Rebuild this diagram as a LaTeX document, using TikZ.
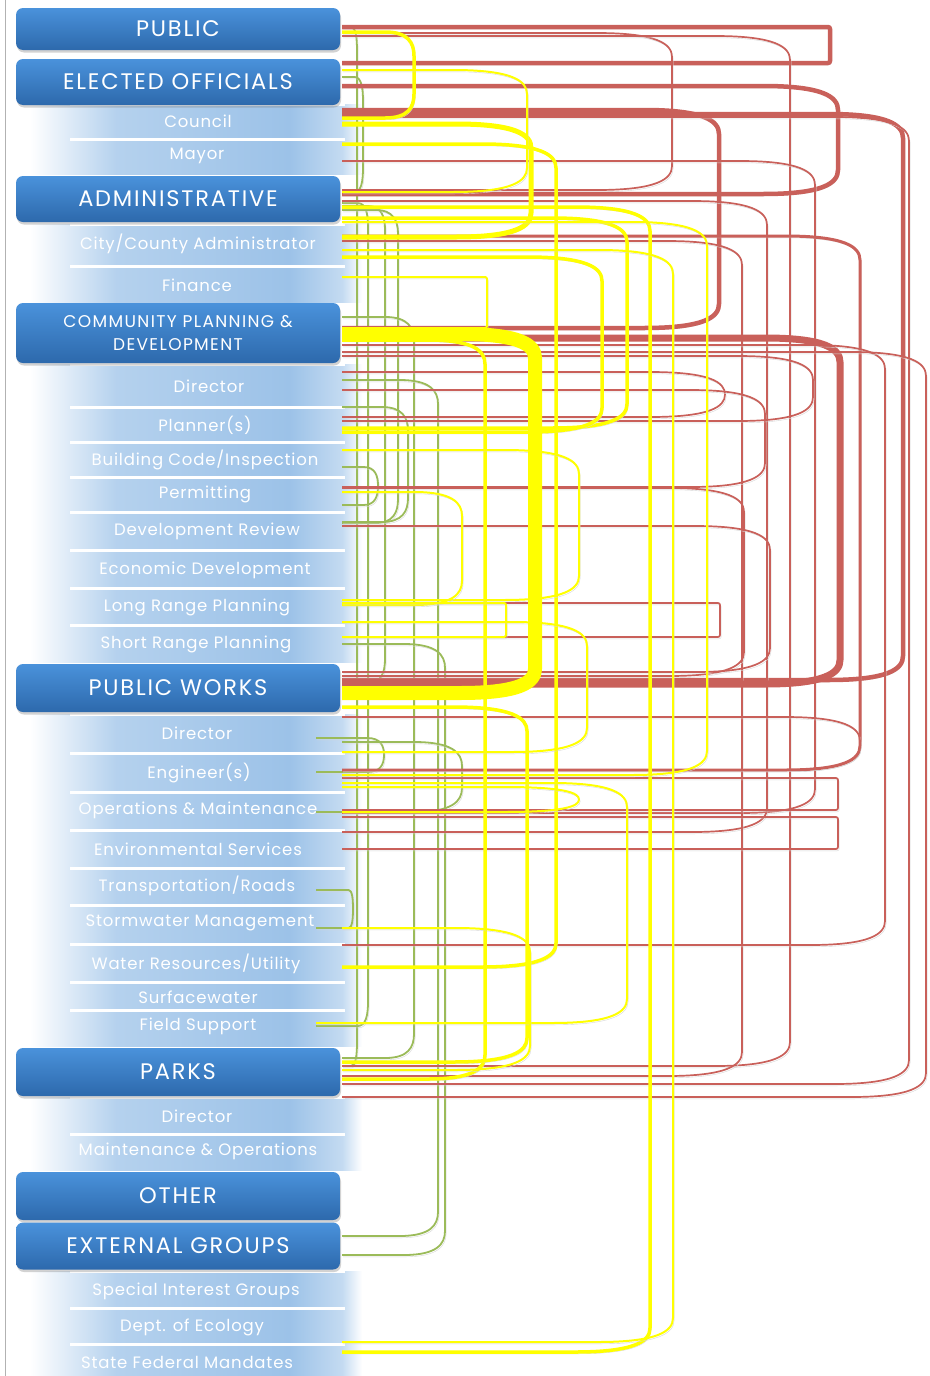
\documentclass[tikz,border=0pt]{standalone}
\usepackage{fontspec}
\newfontfamily\hfont[LetterSpace=8]{Poppins}
\newfontfamily\sfont[LetterSpace=5]{Poppins}
\usetikzlibrary{calc,shadows}
\definecolor{hdtop}{HTML}{4A92DB}
\definecolor{hdbot}{HTML}{2D69AC}
\definecolor{subc}{HTML}{9CC2E8}
\definecolor{cred}{HTML}{C9605A}
\definecolor{cyel}{HTML}{FFFF00}
\definecolor{cgrn}{HTML}{9BBB59}
\pgfdeclarehorizontalshading{subsh}{100bp}{color(0bp)=(white); color(25bp)=(white); color(38bp)=(subc!75); color(64bp)=(subc); color(72bp)=(subc!60); color(75bp)=(white); color(100bp)=(white)}
% curved bracket connector: style, from, y1, to, y2, x of the vertical run
\newcommand\cn[6][]{%
  \pgfmathsetmacro\rh{min(75,(#6-342)*0.4)}%
  \pgfmathsetmacro\rv{min(24,(#5-#3)/2)}%
  \draw[#1] (#2 |- 0,#3) -- ({#6-\rh},#3) .. controls ({#6-0.2*\rh},#3) and (#6,{#3+0.45*\rv}) .. (#6,{#3+\rv})
    -- (#6,{#5-\rv}) .. controls (#6,{#5-0.45*\rv}) and ({#6-0.2*\rh},#5) .. ({#6-\rh},#5) -- (#4 |- 0,#5);}
% square bracket connector
\newcommand\cs[6][]{\draw[#1, rounded corners=2pt] (#2 |- 0,#3) -- (#6,#3) -- (#6,#5) -- (#4 |- 0,#5);}
\tikzset{
  hdr/.style={rounded corners=7pt, top color=hdtop, bottom color=hdbot, draw=none,
    minimum width=324pt, text=white, align=center, inner sep=0pt,
    font=\hfont\fontsize{22.5}{24}\selectfont,
    drop shadow={shadow xshift=1pt, shadow yshift=-2.5pt, opacity=0.35}},
  subt/.style={text=white, inner sep=0pt, font=\sfont\fontsize{16.5}{18}\selectfont},
  conn/.style={line join=round,
    preaction={draw=black!16, transform canvas={shift={(1.2pt,-1.8pt)}}}},
  rn/.style={conn, draw=cred, line width=1.7pt},
  rm/.style={conn, draw=cred, line width=3pt},
  rt/.style={conn, draw=cred, line width=4.5pt},
  rth/.style={conn, draw=cred, line width=7pt},
  yn/.style={conn, draw=cyel, line width=2pt},
  ym/.style={conn, draw=cyel, line width=3.5pt},
  yt/.style={conn, draw=cyel, line width=5pt},
  yhuge/.style={conn, draw=cyel, line width=14pt},
  gn/.style={conn, draw=cgrn, line width=1.8pt},
}
\begin{document}
\begin{tikzpicture}[x=1pt,y=-1pt]
\useasboundingbox (0,0) rectangle (929,1376);
\fill[white] (0,0) rectangle (929,1376);
\draw[black!30, line width=1pt] (5,0) -- (5,1376);
% sub bars
\foreach \t/\b in {104/139,139/174,224/266,266/302,364/407,407/442,442/477,477/512,512/550,550/588,588/625,625/662,714/753,753/792,792/830,830/868,868/905,905/944,944/982,982/1010,1010/1046,1097/1134,1134/1170,1271/1308,1308/1344,1344/1376}{
  \path[shading=subsh] (30,\t) rectangle (362,\b);
  \draw[white, line width=3pt] (70,\t) -- (345,\t);
}
% sub texts
\node[subt] (t-council) at (198,121) {Council};
\node[subt] (t-mayor) at (197,156) {Mayor};
\node[subt] (t-cityadm) at (198,244) {City/County Administrator};
\node[subt] (t-finance) at (197,285) {Finance};
\node[subt] (t-cpdir) at (209,386) {Director};
\node[subt] (t-planner) at (205,425) {Planner(s)};
\node[subt] (t-bldg) at (205,460) {Building Code/Inspection};
\node[subt] (t-permit) at (205,494) {Permitting};
\node[subt] (t-devrev) at (207,531) {Development Review};
\node[subt] (t-econ) at (205,570) {Economic Development};
\node[subt] (t-lrp) at (197,607) {Long Range Planning};
\node[subt] (t-srp) at (196,644) {Short Range Planning};
\node[subt] (t-pwdir) at (197,733) {Director};
\node[subt] (t-eng) at (199,773) {Engineer(s)};
\node[subt] (t-om) at (198,810) {Operations \& Maintenance};
\node[subt] (t-env) at (198,849) {Environmental Services};
\node[subt] (t-trans) at (197,886) {Transportation/Roads};
\node[subt] (t-storm) at (200,923) {Stormwater Management};
\node[subt] (t-water) at (196,964) {Water Resources/Utility};
\node[subt] (t-surf) at (198,997) {Surfacewater};
\node[subt] (t-field) at (198,1026) {Field Support};
\node[subt] (t-pkdir) at (197,1116) {Director};
\node[subt] (t-pkmo) at (198,1151) {Maintenance \& Operations};
\node[subt] (t-sig) at (196,1291) {Special Interest Groups};
\node[subt] (t-eco) at (192,1327) {Dept. of Ecology};
\node[subt] (t-sfm) at (187,1362) {State Federal Mandates};
% headers
\node[hdr, minimum height=42pt] (h-pub) at (178,29) {PUBLIC};
\node[hdr, minimum height=46pt] (h-elect) at (178,82) {ELECTED OFFICIALS};
\node[hdr, minimum height=46pt] (h-admin) at (178,199) {ADMINISTRATIVE};
\node[hdr, minimum height=60pt, font=\hfont\fontsize{17}{23}\selectfont] (h-cpd) at (178,333) {COMMUNITY PLANNING \&\\DEVELOPMENT};
\node[hdr, minimum height=48pt] (h-pw) at (178,688) {PUBLIC WORKS};
\node[hdr, minimum height=48pt] (h-parks) at (178,1072) {PARKS};
\node[hdr, minimum height=48pt] (h-other) at (178,1196) {OTHER};
\node[hdr, minimum height=47pt] (h-ext) at (178,1246) {EXTERNAL GROUPS};
% attach points
\foreach \n/\y in {pub/29,elect/82,council/121,mayor/156,admin/199,cityadm/245,finance/285,cpd/333,cpdir/386,planner/425,bldg/460,permit/494,devrev/531,econ/570,lrp/607,srp/644,pw/688,pwdir/733,eng/773,om/810,env/849,trans/886,storm/923,water/964,surf/997,field/1026,parks/1072,ext/1246,sfm/1362}{
  \coordinate (\n) at (342,\y);
}
\foreach \n/\y in {pwdir/733,eng/773,om/810,trans/886,storm/923,field/1026}{
  \coordinate (\n L) at (316,\y);
}
% green connectors
\cn[gn]{pub}{27}{parks}{1066}{357}
\cn[gn]{elect}{77}{admin}{192}{363}
\cn[gn]{admin}{203}{fieldL}{1026}{368}
\cn[gn]{admin}{206}{pw}{683}{385}
\cn[gn]{admin}{210}{devrev}{523}{398}
\cn[gn]{cpd}{317}{parks}{1058}{414}
\cn[gn]{cpdir}{380}{ext}{1236}{438}
\cn[gn]{srp}{644}{ext}{1255}{445}
\cn[gn]{planner}{407}{devrev}{522}{408}
\cn[gn]{bldg}{467}{permit}{505}{378}
\cn[gn]{pwdirL}{738}{engL}{772}{384}
\cn[gn]{pwdir}{742}{omL}{812}{462}
\cn[gn]{transL}{890}{stormL}{928}{353}
% red connectors
\cs[rt]{pub}{27}{elect}{63}{830}
\cn[rn]{pub}{33}{admin}{190}{672}
\cn[rn]{pub}{36}{parks}{1066}{790}
\cn[rt]{elect}{86}{admin}{194}{838}
\cn[rt]{council}{110}{cpd}{328}{719}
\cn[rt]{council}{114}{pw}{680}{903}
\cn[rn]{council}{117}{parks}{1084}{909}
\cn[rn]{mayor}{161}{om}{813}{815}
\cn[rn]{admin}{201}{env}{832}{767}
\cn[rm]{cityadm}{236}{eng}{770}{860}
\cn[rn]{cityadm}{241}{parks}{1076}{742}
\cn[rth]{cpd}{338}{pw}{684}{840}
\cn[rn]{cpd}{345}{storm}{945}{885}
\cn[rn]{cpd}{352}{parks}{1097}{926}
\cn[rn]{cpdir}{372}{planner}{417}{725}
\cn[rn]{cpdir}{390}{permit}{487}{765}
\cn[rn]{cpd}{356}{planner}{421}{813}
\cn[rn]{permit}{488}{pw}{676}{744}
\cn[rn]{devrev}{526}{pw}{672}{770}
\cs[rn]{lrp}{603}{srp}{637}{720}
\cn[rn]{pwdir}{717}{eng}{770}{860}
\cs[rn]{eng}{778}{om}{810}{838}
\cs[rn]{om}{817}{env}{849}{838}
% yellow connectors
\cn[ym]{pub}{32}{council}{118}{414}
\cn[yt]{council}{124}{cityadm}{237}{531}
\cn[yn]{elect}{70}{admin}{192}{527}
\cn[ym]{mayor}{144}{water}{967}{556}
\cn[ym]{admin}{207}{sfm}{1352}{650}
\cn[ym]{admin}{218}{planner}{428}{627}
\cn[yn]{admin}{222}{eng}{775}{707}
\cn[yn]{cityadm}{250}{sfm}{1342}{673}
\cn[ym]{cityadm}{257}{planner}{432}{602}
\cs[yn]{finance}{277}{cpd}{328}{487}
\cn[ym]{cpd}{340}{parks}{1079}{485}
\cn[yn]{bldg}{450}{lrp}{600}{579}
\cn[yn]{permit}{492}{lrp}{605}{462}
\cs[yn]{lrp}{603}{srp}{637}{506}
\cn[yn]{lrp}{622}{pwdir}{752}{587}
\cn[ym]{pw}{707}{parks}{1062}{527}
\cn[yn]{eng}{783}{fieldL}{1023}{627}
\cn[yn]{eng}{787}{om}{812}{579}
\cn[yn]{storm}{928}{parks}{1070}{530}
\cn[yhuge]{cpd}{334}{pw}{693}{535}
\end{tikzpicture}
\end{document}
